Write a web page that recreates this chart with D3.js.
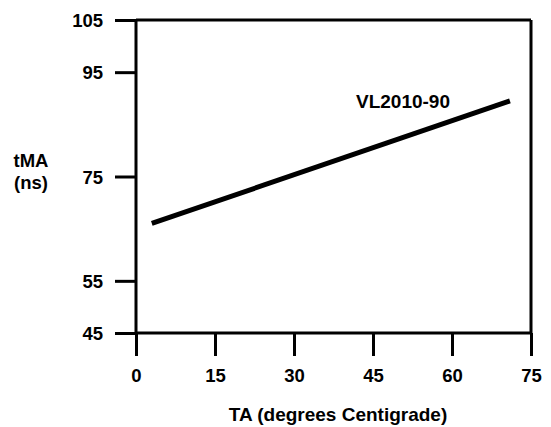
<!DOCTYPE html>
<html>
<head>
<meta charset="utf-8">
<style>
    body { margin: 0; background: #fff; }
    text { font-family: "Liberation Sans", Arial, Helvetica, sans-serif; font-weight: bold; fill: #000; }
    .domain, .tick line { stroke: #000; stroke-width: 3px; }
</style>
</head>
<body>
<svg id="chart" width="551" height="427"></svg>
<script src="https://d3js.org/d3.v7.min.js"></script>
<script>
    // data
    var tempC = [3, 71];
    var tma = [66, 89.5];
    var xTicks = [0, 15, 30, 45, 60, 75];
    var yTicks = [45, 55, 75, 95, 105];
    var seriesName = "VL2010-90";

    var svg = d3.select("#chart");

    var x = d3.scaleLinear().domain([0, 75]).range([136, 531]);
    var y = d3.scaleLinear().domain([45, 105]).range([333, 20]);

    // left axis, ticks stick out to the left
    var yAxis = svg.append("g")
        .attr("transform", "translate(" + x(0) + ",0)")
        .call(d3.axisLeft(y).tickValues(yTicks).tickSize(21).tickSizeOuter(0).tickPadding(12));
    yAxis.select(".domain").remove();
    yAxis.selectAll(".tick text")
        .attr("dy", "0.36em")
        .style("font-family", "'Liberation Sans', Arial, sans-serif")
        .style("font-weight", "bold")
        .style("font-size", "18.5px");

    var xAxis = svg.append("g")
        .attr("transform", "translate(0," + y(45) + ")")
        .call(d3.axisBottom(x).tickValues(xTicks).tickSize(23).tickSizeOuter(0));
    xAxis.select(".domain").remove();
    xAxis.selectAll(".tick text")
        .attr("y", 49).attr("dy", 0)
        .style("font-family", "'Liberation Sans', Arial, sans-serif")
        .style("font-weight", "bold")
        .style("font-size", "18.5px");

    // frame
    var frame = svg.append("g").attr("stroke", "#000").attr("stroke-width", 3);
    frame.append("line").attr("x1", x(0)).attr("x2", x(0)).attr("y1", y(105)).attr("y2", y(45));
    frame.append("line").attr("x1", x(75)).attr("x2", x(75)).attr("y1", y(105)).attr("y2", y(45));
    frame.append("line").attr("x1", x(0)).attr("x2", x(75)).attr("y1", y(105)).attr("y2", y(105));
    frame.append("line").attr("x1", x(0)).attr("x2", x(75)).attr("y1", y(45)).attr("y2", y(45));

    var line = d3.line()
        .x(function (d, i) { return x(tempC[i]); })
        .y(function (d, i) { return y(d); });

    svg.append("path")
        .datum(tma)
        .attr("d", line)
        .attr("fill", "none")
        .attr("stroke", "#000")
        .attr("stroke-width", 5);

    svg.append("text")
        .attr("x", 403)
        .attr("y", 108)
        .attr("text-anchor", "middle")
        .style("font-size", "19px")
        .text(seriesName);

    // axis titles
    svg.append("text")
        .attr("x", 338)
        .attr("y", 421)
        .attr("text-anchor", "middle")
        .style("font-size", "19px")
        .text("TA (degrees Centigrade)");

    var yTitle = svg.append("text")
        .attr("text-anchor", "middle")
        .style("font-size", "18.5px");
    yTitle.append("tspan").attr("x", 31).attr("y", 167).text("tMA");
    yTitle.append("tspan").attr("x", 31).attr("y", 189).text("(ns)");
</script>
</body>
</html>
